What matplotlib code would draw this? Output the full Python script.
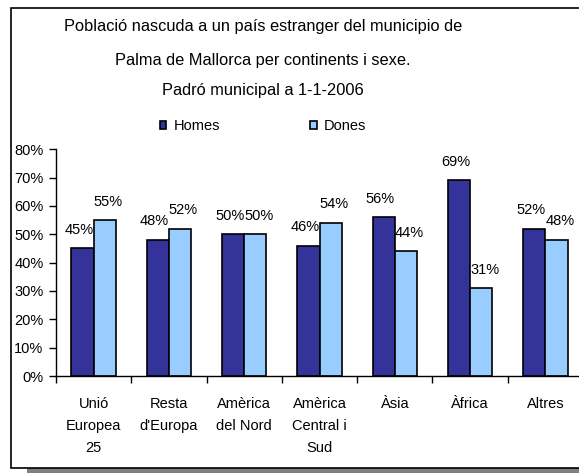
import matplotlib
matplotlib.use("Agg")
import matplotlib.pyplot as plt
from matplotlib.patches import Rectangle, Patch

plt.rcParams['font.family'] = ['Liberation Sans', 'DejaVu Sans']

categories = ["Unió\nEuropea\n25", "Resta\nd'Europa", "Amèrica\ndel Nord",
              "Amèrica\nCentral i\nSud", "Àsia", "Àfrica", "Altres"]
homes = [45, 48, 50, 46, 56, 69, 52]
dones = [55, 52, 50, 54, 44, 31, 48]
series_names = ["Homes", "Dones"]
title_lines = ["Població nascuda a un país estranger del municipio de",
               "Palma de Mallorca per continents i sexe.",
               "Padró municipal a 1-1-2006"]
yticks = [0, 10, 20, 30, 40, 50, 60, 70, 80]

W, H = 579, 473
fig = plt.figure(figsize=(W / 100, H / 100), dpi=100)

def fx(px):
    return px / W

def fy(py):
    return 1 - py / H

# frame with shadow
shadow = Rectangle((fx(27), fy(474)), fx(700), (474 - 20) / H,
                   transform=fig.transFigure, facecolor='#808080',
                   edgecolor='none', zorder=0)
fig.patches.append(shadow)
frame = Rectangle((fx(11), fy(468)), fx(700), (468 - 8) / H,
                  transform=fig.transFigure, facecolor='white',
                  edgecolor='black', linewidth=1.2, zorder=1)
fig.patches.append(frame)

ax_left, ax_right, ax_top, ax_bot = 56, 583, 149.3, 376
ax = fig.add_axes([fx(ax_left), fy(ax_bot), fx(ax_right - ax_left), (ax_bot - ax_top) / H])
ax.set_facecolor('none')
ax.set_zorder(2)

n = len(categories)
x = list(range(n))
bw = 0.295
ax.bar([i - bw / 2 for i in x], homes, width=bw, color='#333399',
       edgecolor='black', linewidth=1.2, label=series_names[0])
ax.bar([i + bw / 2 for i in x], dones, width=bw, color='#99CCFF',
       edgecolor='black', linewidth=1.2, label=series_names[1])

for i in x:
    ax.annotate(f"{homes[i]}%", (i - bw / 2, homes[i]), xytext=(-2.5, 10.5),
                textcoords='offset points', ha='center', va='baseline', fontsize=10.5)
    ax.annotate(f"{dones[i]}%", (i + bw / 2, dones[i]), xytext=(2.5, 10.5),
                textcoords='offset points', ha='center', va='baseline', fontsize=10.5)

ax.set_xlim(-0.5, n - 0.5)
ax.set_ylim(0, 80)
ax.set_yticks(yticks)
ax.set_yticklabels([f"{v}%" for v in yticks], fontsize=10.5)
ax.set_xticks(x)
ax.set_xticklabels(categories, fontsize=10.5, linespacing=1.75, va='top')
ax.set_xticks([i - 0.5 for i in range(n + 1)], minor=True)
ax.tick_params(axis='x', which='major', length=0, pad=15)
ax.tick_params(axis='x', which='minor', length=5, width=1, direction='out')
ax.tick_params(axis='y', length=5, width=1, direction='out', pad=4)
for s in ['top', 'right']:
    ax.spines[s].set_visible(False)
for s in ['left', 'bottom']:
    ax.spines[s].set_linewidth(1.0)

ty = [27, 60, 91]
for t, yy in zip(title_lines, ty):
    fig.text(fx(263), fy(yy), t, ha='center', va='center', fontsize=11.8, zorder=3)

handles = [Patch(facecolor='#333399', edgecolor='black', linewidth=1.2),
           Patch(facecolor='#99CCFF', edgecolor='black', linewidth=1.2)]
leg = fig.legend(handles, series_names, loc='center', bbox_to_anchor=(fx(263), fy(126)),
                 ncol=2, frameon=False, fontsize=10.5, handlelength=0.45,
                 handleheight=0.5, handletextpad=0.5, columnspacing=6.2)
leg.set_zorder(3)

fig.savefig("out.png", dpi=100)
